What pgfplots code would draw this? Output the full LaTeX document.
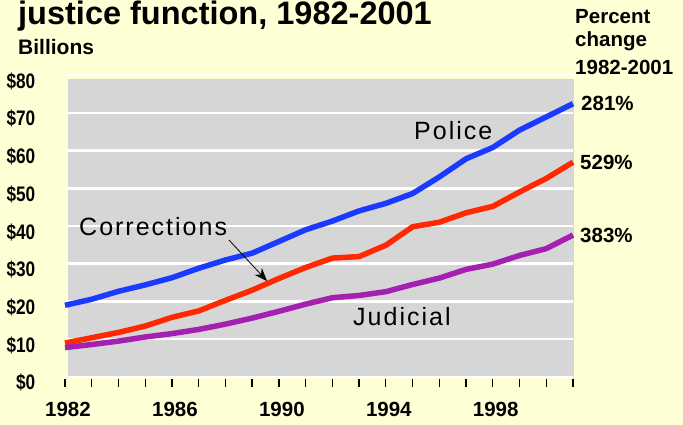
\documentclass[border=0pt]{standalone}
\usepackage{fontspec}
\setmainfont{Liberation Sans}
\newfontfamily\lblfont[LetterSpace=8]{Liberation Sans}
\usepackage{graphicx}
\usepackage{pgfplots}
\pgfplotsset{compat=1.18}
\usetikzlibrary{arrows.meta}
\definecolor{bgy}{RGB}{255,255,214}
\definecolor{plotgray}{RGB}{214,214,214}
\definecolor{polblue}{RGB}{26,58,255}
\definecolor{corred}{RGB}{255,40,0}
\definecolor{judpurple}{RGB}{164,32,176}
\newcommand{\yl}[1]{\scalebox{0.82}[1]{\$#1}}
\begin{document}
\begin{tikzpicture}[x=1pt,y=1pt]
\useasboundingbox (0,0) rectangle (683,425);
\fill[bgy] (0,0) rectangle (683,425);
\clip (0,0) rectangle (683,425);
\fill[plotgray] (68,48) rectangle (574,346);
\begin{axis}[
  at={(65pt,48pt)}, anchor=south west,
  scale only axis, width=508pt, height=302pt,
  xmin=1982, xmax=2001, ymin=0, ymax=80,
  axis line style={draw=none},
  ymajorgrids, major grid style={white, line width=2.5pt},
  ytick={0,10,...,80},
  yticklabels={\yl{0},\yl{10},\yl{20},\yl{30},\yl{40},\yl{50},\yl{60},\yl{70},\yl{80}},
  ytick style={draw=none},
  yticklabel style={anchor=base east, inner sep=0pt, xshift=-21.5pt, yshift=-13pt, font=\fontsize{21}{24}\selectfont\bfseries},
  xtick={1982,...,2001},
  xtick pos=bottom, ytick pos=left,
  xticklabels={1982,,,,1986,,,,1990,,,,1994,,,,1998,,,},
  tick align=outside, major tick length=8pt,
  xtick style={black, line width=1.3pt, yshift=-2pt},
  xticklabel style={anchor=base, inner sep=0pt, xshift=3pt, yshift=-32pt, font=\fontsize{20.5}{24}\selectfont\bfseries},
  clip=false,
]
\addplot[polblue, line width=5.5pt] coordinates {
(1982,19.0) (1983,20.6) (1984,22.7) (1985,24.4) (1986,26.3) (1987,28.8) (1988,31.0) (1989,32.8) (1990,35.9) (1991,39.0) (1992,41.3) (1993,44.0) (1994,46.0) (1995,48.6) (1996,53.0) (1997,57.8) (1998,60.8) (1999,65.4) (2000,68.9) (2001,72.4)};
\addplot[corred, line width=5.5pt] coordinates {
(1982,9.0) (1983,10.4) (1984,11.8) (1985,13.5) (1986,15.8) (1987,17.5) (1988,20.3) (1989,23.0) (1990,26.1) (1991,29.0) (1992,31.5) (1993,31.9) (1994,34.9) (1995,39.8) (1996,41.0) (1997,43.5) (1998,45.2) (1999,49.0) (2000,52.6) (2001,56.9)};
\addplot[judpurple, line width=5.5pt] coordinates {
(1982,7.8) (1983,8.6) (1984,9.5) (1985,10.6) (1986,11.5) (1987,12.6) (1988,14.0) (1989,15.6) (1990,17.4) (1991,19.3) (1992,21.0) (1993,21.6) (1994,22.6) (1995,24.5) (1996,26.2) (1997,28.5) (1998,29.9) (1999,32.2) (2000,34.0) (2001,37.6)};
\end{axis}
\node[anchor=base west, inner sep=0pt, font=\fontsize{32.5}{36}\selectfont\bfseries] at (18,400) {justice function, 1982-2001};
\node[anchor=base west, inner sep=0pt, font=\fontsize{21}{24}\selectfont\bfseries] at (18,370) {Billions};
\begin{scope}[every node/.style={anchor=base west, inner sep=0pt, font=\fontsize{20.5}{24}\selectfont\bfseries}]
\node at (575,401) {Percent};
\node at (575,378) {change};
\node at (575,350) {1982-2001};
\node at (581,314) {281\%};
\node at (580,255) {529\%};
\node at (580,182) {383\%};
\end{scope}
\begin{scope}[every node/.style={anchor=base west, inner sep=0pt, font=\fontsize{25}{28}\lblfont}]
\node at (414,285) {Police};
\node at (79,189) {Corrections};
\node at (353,99) {Judicial};
\end{scope}
\draw[black, line width=0.8pt, -{Stealth[length=13pt, width=10pt]}] (229,185) -- (267,144);
\end{tikzpicture}
\end{document}
